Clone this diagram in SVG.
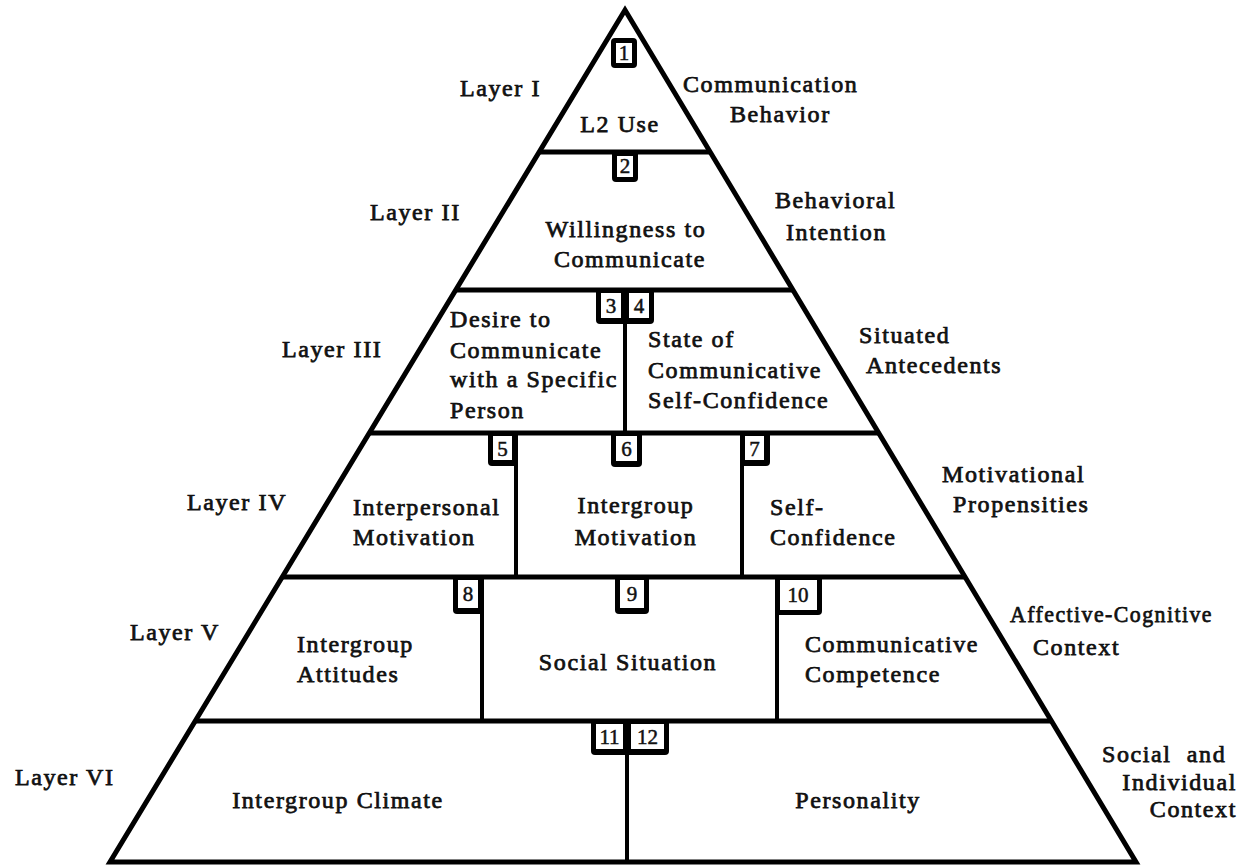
<svg xmlns="http://www.w3.org/2000/svg" width="1245" height="866" viewBox="0 0 1245 866">
<style>
  .bg{fill:#fff}
  .edge{fill:none;stroke:#000;stroke-width:5;stroke-linejoin:miter}
  .div{stroke:#000;stroke-width:5;stroke-linecap:butt}
  .vdiv{stroke:#000;stroke-width:4;stroke-linecap:butt}
  .nb{fill:#000}
  .ni{fill:#fff}
  text{font-family:"Liberation Serif","Times New Roman",serif;font-size:24px;fill:#111;stroke:#111;stroke-width:0.75;letter-spacing:1.6px}
  .num{font-size:21px;text-anchor:middle;letter-spacing:0;stroke-width:0.5}
  .mid{text-anchor:middle}
  .end{text-anchor:end}
</style>
<rect class="bg" x="0" y="0" width="1245" height="866"/>

<g id="frame">
  <polygon class="edge" points="625,10 1136,862 110,862"/>
  <line class="div" x1="539" y1="152" x2="710" y2="152"/>
  <line class="div" x1="456" y1="290" x2="793" y2="290"/>
  <line class="div" x1="369" y1="433" x2="879" y2="433"/>
  <line class="div" x1="282" y1="577" x2="965" y2="577"/>
  <line class="div" x1="195" y1="721" x2="1052" y2="721"/>
</g>

<g id="connectors">
  <line class="vdiv" x1="625" y1="290" x2="625" y2="433"/>
  <line class="vdiv" x1="516" y1="433" x2="516" y2="577"/>
  <line class="vdiv" x1="742" y1="433" x2="742" y2="577"/>
  <line class="vdiv" x1="482" y1="577" x2="482" y2="721"/>
  <line class="vdiv" x1="777" y1="577" x2="777" y2="721"/>
  <line class="vdiv" x1="627" y1="721" x2="627" y2="862"/>
</g>

<g id="layer-labels">
  <text x="460" y="96">Layer I</text>
  <text x="370" y="220">Layer II</text>
  <text x="282" y="357">Layer III</text>
  <text x="187" y="510">Layer IV</text>
  <text x="130" y="640">Layer V</text>
  <text x="15" y="785">Layer VI</text>
</g>

<g id="side-labels">
  <text x="683" y="92">Communication</text>
  <text x="730" y="122">Behavior</text>
  <text x="775" y="208">Behavioral</text>
  <text x="786" y="240">Intention</text>
  <text x="859" y="343">Situated</text>
  <text x="866" y="373">Antecedents</text>
  <text x="942" y="482">Motivational</text>
  <text x="953" y="512">Propensities</text>
  <text x="1010" y="622" textLength="203" lengthAdjust="spacingAndGlyphs">Affective-Cognitive</text>
  <text x="1033" y="655">Context</text>
  <text x="1102" y="762" xml:space="preserve">Social  and</text>
  <text class="end" x="1237" y="790">Individual</text>
  <text class="end" x="1237" y="817">Context</text>
</g>

<g id="node-1">
  <rect class="nb" x="611" y="38" width="26" height="30" rx="4"/>
  <rect class="ni" x="616" y="43" width="16" height="20"/>
  <text class="num" x="624" y="60">1</text>
  <text class="mid" x="620" y="132">L2 Use</text>
</g>

<g id="node-2">
  <rect class="nb" x="612" y="150" width="26" height="32" rx="4"/>
  <rect class="ni" x="617" y="156" width="16" height="21"/>
  <text class="num" x="625" y="173">2</text>
  <text class="mid" x="626" y="237">Willingness to</text>
  <text class="mid" x="630" y="267">Communicate</text>
</g>

<g id="node-3-4-box">
  <rect class="nb" x="596" y="288" width="58" height="36" rx="4"/>
</g>
<g id="node-3">
  <rect class="ni" x="601" y="293" width="20" height="25"/>
  <text class="num" x="611" y="313">3</text>
  <text x="450" y="327">Desire to</text>
  <text x="450" y="358">Communicate</text>
  <text x="450" y="387">with a Specific</text>
  <text x="450" y="418">Person</text>
</g>
<g id="node-4">
  <rect class="ni" x="629" y="293" width="20" height="25"/>
  <text class="num" x="639" y="313">4</text>
  <text x="648" y="347">State of</text>
  <text x="648" y="378">Communicative</text>
  <text x="648" y="408">Self-Confidence</text>
</g>

<g id="node-5">
  <rect class="nb" x="488" y="431" width="30" height="35" rx="4"/>
  <rect class="ni" x="493" y="436" width="19" height="24"/>
  <text class="num" x="502.5" y="456">5</text>
  <text x="353" y="515">Interpersonal</text>
  <text x="353" y="545">Motivation</text>
</g>

<g id="node-6">
  <rect class="nb" x="611" y="431" width="31" height="36" rx="4"/>
  <rect class="ni" x="616" y="436" width="21" height="25"/>
  <text class="num" x="626.5" y="456">6</text>
  <text class="mid" x="636" y="513">Intergroup</text>
  <text class="mid" x="636" y="545">Motivation</text>
</g>

<g id="node-7">
  <rect class="nb" x="740" y="431" width="30" height="35" rx="4"/>
  <rect class="ni" x="745" y="436" width="19" height="24"/>
  <text class="num" x="754.5" y="456">7</text>
  <text x="770" y="515">Self-</text>
  <text x="770" y="545">Confidence</text>
</g>

<g id="node-8">
  <rect class="nb" x="453" y="575" width="31" height="39" rx="4"/>
  <rect class="ni" x="458" y="580" width="20" height="28"/>
  <text class="num" x="468" y="601">8</text>
  <text x="297" y="652">Intergroup</text>
  <text x="297" y="682">Attitudes</text>
</g>

<g id="node-9">
  <rect class="nb" x="615" y="575" width="34" height="39" rx="4"/>
  <rect class="ni" x="620" y="580" width="24" height="28"/>
  <text class="num" x="632" y="601">9</text>
  <text class="mid" x="628" y="670">Social Situation</text>
</g>

<g id="node-10">
  <rect class="nb" x="775" y="575" width="47" height="40" rx="4"/>
  <rect class="ni" x="780" y="580" width="37" height="30"/>
  <text class="num" x="798" y="602">10</text>
  <text x="805" y="652">Communicative</text>
  <text x="805" y="682">Competence</text>
</g>

<g id="node-11-12-box">
  <rect class="nb" x="591" y="719" width="78" height="36" rx="4"/>
</g>
<g id="node-11">
  <rect class="ni" x="596" y="724" width="27" height="25"/>
  <text class="num" x="609.5" y="744">11</text>
  <text class="mid" x="338" y="808">Intergroup Climate</text>
</g>
<g id="node-12">
  <rect class="ni" x="631" y="724" width="33" height="25"/>
  <text class="num" x="647.5" y="744">12</text>
  <text class="mid" x="858" y="808">Personality</text>
</g>
</svg>
